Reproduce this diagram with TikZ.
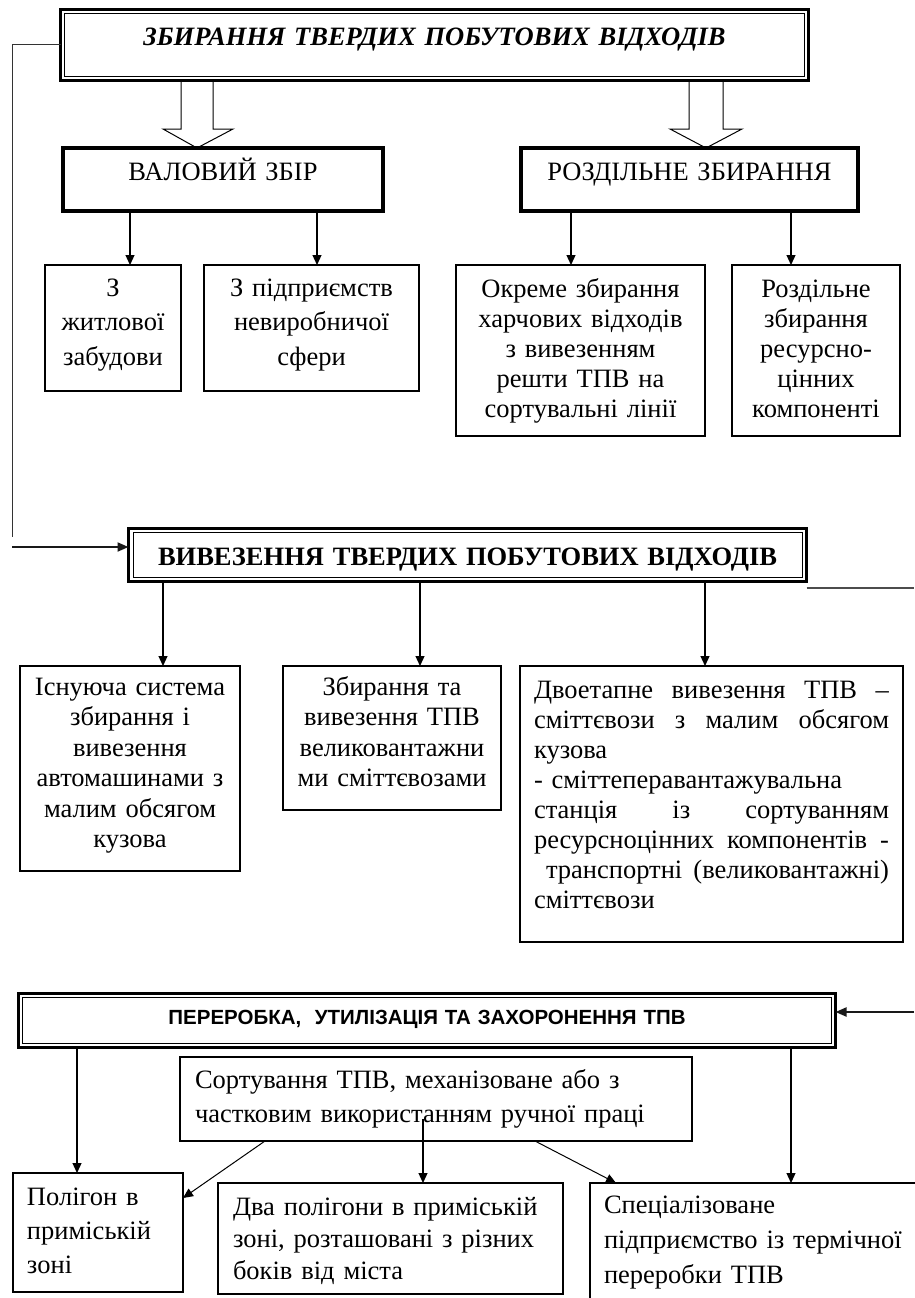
\documentclass[tikz,border=0pt]{standalone}
\usepackage{fontspec}
\setmainfont{Liberation Serif}
\newfontfamily\arialfont{Liberation Sans}
\usetikzlibrary{arrows.meta,calc}
% one justified line of the two-stage text
\newcommand\jline[1]{\leavevmode\hbox to 355pt{#1}}

\begin{document}
\begin{tikzpicture}[x=1pt,y=-1pt,
  boxframe/.style={draw, outer sep=0pt, inner ysep=0pt, inner xsep=0pt, anchor=north west},
  thinbox/.style={boxframe, line width=1.2pt},
  thickbox/.style={boxframe, line width=4pt},
  dblbox/.style={boxframe, line width=3pt},
  innerframe/.style={line width=1pt},
  arr/.style={line width=1.2pt, -{Triangle[length=10pt,width=9pt]}},
  feed/.style={line width=2pt, draw=black!90, -{Triangle[length=11pt,width=9pt]}},
  blockarr/.style={line width=1pt},
  body/.style={font={\fontsize{26.5}{#1}\selectfont}},
]
\useasboundingbox[fill=white] (0,0) rectangle (914,1298);

% ---- collection ----
\node[dblbox, text width=748pt, align=center, text height=36.5pt, text depth=34.5pt,
  font=\fontsize{26.5}{30}\selectfont\bfseries\itshape] (collect) at (60.5,9.5)
  {ЗБИРАННЯ ТВЕРДИХ ПОБУТОВИХ ВІДХОДІВ};
\draw[innerframe] ([shift={(4,4)}]collect.north west) rectangle ([shift={(-4,-4)}]collect.south east);

\node[thickbox, text width=320pt, align=center, text height=32pt, text depth=31pt, body=30]
  (gross) at (63,148) {ВАЛОВИЙ ЗБІР};
\node[thickbox, text width=337pt, align=center, text height=32pt, text depth=31pt, body=30]
  (separate) at (521,148) {РОЗДІЛЬНЕ ЗБИРАННЯ};

\draw[blockarr] (181,0 |- collect.south) -- (181,129) -- (163,129) -- (197,0 |- gross.north)
  -- (233,129) -- (213,129) -- (213,0 |- collect.south);
\draw[blockarr] (689,0 |- collect.south) -- (689,129) -- (670,129) -- (706,0 |- separate.north)
  -- (742,129) -- (723,129) -- (723,0 |- collect.south);

\node[thinbox, text width=136pt, align=center, text height=31pt, text depth=95pt, body=34.5]
  (housing) at (45,265) {З\\житлової\\забудови};
\node[thinbox, text width=215pt, align=center, text height=31pt, text depth=95pt, body=34.5]
  (firms) at (204,265) {З підприємств\\невиробничої\\сфери};
\node[thinbox, text width=249pt, align=center, text height=32pt, text depth=139pt, body=30]
  (food) at (456,265) {Окреме збирання\\харчових відходів\\з вивезенням\\решти ТПВ на\\сортувальні лінії};
\node[thinbox, text width=168pt, align=center, text height=32pt, text depth=139pt, body=30]
  (resources) at (732,265) {Роздільне\\збирання\\ресурсно-\\цінних\\компоненті};

\draw[arr] (130,0 |- gross.south) -- (130,0 |- housing.north);
\draw[arr] (317,0 |- gross.south) -- (317,0 |- firms.north);
\draw[arr] (571,0 |- separate.south) -- (571,0 |- food.north);
\draw[arr] (791,0 |- separate.south) -- (791,0 |- resources.north);

% ---- removal ----
\node[dblbox, text width=678pt, align=center, text height=36.5pt, text depth=16.5pt,
  font=\fontsize{26.5}{30}\selectfont\bfseries] (removal) at (128.5,528.5)
  {ВИВЕЗЕННЯ ТВЕРДИХ ПОБУТОВИХ ВІДХОДІВ};
\draw[innerframe] ([shift={(4.5,4)}]removal.north west) rectangle ([shift={(-4.5,-4)}]removal.south east);

\coordinate (loopend) at (12,537);
\coordinate (loopin) at (12,547);
\draw[line width=1pt, black!80] (collect.west) -| (loopend);
\draw[feed] (loopin) -- (loopin -| removal.west);

\coordinate (outR) at (914,588);
\draw[line width=2pt, black!70] (outR -| removal.east) -- (outR);

\node[thinbox, text width=220pt, align=center, text height=29pt, text depth=176pt, body=30.5]
  (existing) at (20,666) {Існуюча система\\збирання і\\вивезення\\автомашинами з\\малим обсягом\\кузова};
\node[thinbox, text width=218pt, align=center, text height=29pt, text depth=115pt, body=30.5]
  (large) at (283,666) {Збирання та\\вивезення ТПВ\\великовантажни\\ми сміттєвозами};
\node[thinbox, text width=355pt, inner xsep=14pt, align=left, text height=32pt, text depth=244pt, body=30]
  (twostage) at (520,666) {%
  \jline{Двоетапне\hfill вивезення\hfill ТПВ\hfill –}\\
  \jline{сміттєвози\hfill з\hfill малим\hfill обсягом}\\
  кузова\\
  - сміттеперавантажувальна\\
  \jline{станція\hfill із\hfill сортуванням}\\
  \jline{ресурсноцінних\hfill компонентів\hfill -}\\
  \jline{\hspace{12pt}транспортні\hfill (великовантажні)}\\
  сміттєвози};

\draw[arr] (163,0 |- removal.south) -- (163,0 |- existing.north);
\draw[arr] (420,0 |- removal.south) -- (420,0 |- large.north);
\draw[arr] (705,0 |- removal.south) -- (705,0 |- twostage.north);

% ---- processing ----
\node[dblbox, text width=817pt, align=center, text height=30.5pt, text depth=23.5pt,
  font=\arialfont\fontsize{20.5}{24}\selectfont\bfseries] (processing) at (18.5,993.5)
  {ПЕРЕРОБКА,~ УТИЛІЗАЦІЯ ТА ЗАХОРОНЕННЯ ТПВ};
\draw[innerframe] ([shift={(4,4)}]processing.north west) rectangle ([shift={(-4,-4)}]processing.south east);

\coordinate (inR) at (914,1012);
\draw[feed] (inR) -- (inR -| processing.east);

\node[thinbox, text width=482pt, inner xsep=15pt, align=left, text height=31pt, text depth=53pt, body=34]
  (sorting) at (180,1057) {Сортування ТПВ, механізоване або з\\частковим використанням ручної праці};

\node[thinbox, text width=142pt, inner xsep=14pt, align=left, text height=32pt, text depth=87pt, body=34]
  (landfill) at (13,1173) {Полігон в\\приміській\\зоні};
\node[thinbox, text width=315pt, inner xsep=15pt, align=left, text height=32pt, text depth=79pt, body=32]
  (twolandfills) at (218,1183) {Два полігони в приміській\\зоні, розташовані з різних\\боків від міста};
\node[boxframe, draw=none, text width=300pt, inner xsep=14pt, align=left, text height=30pt, text depth=100pt, body=35]
  (thermal) at (590,1183) {Спеціалізоване\\підприємство із термічної\\переробки ТПВ};
\draw[line width=1.2pt] (thermal.north west |- 0,1300) -- (thermal.north west) -- (916,0 |- thermal.north west);

\draw[arr] (77,0 |- processing.south) -- (77,0 |- landfill.north);
\draw[arr] (791,0 |- processing.south) -- (791,0 |- thermal.north);
\draw[arr, line width=1pt] (265,0 |- sorting.south) -- (landfill.east |- 0,1198);
\coordinate (sortmid) at (423,1119);
\draw[arr] (sortmid) -- (sortmid |- twolandfills.north);
\draw[arr, line width=1pt] (535,0 |- sorting.south) -- (616,0 |- thermal.north);
\end{tikzpicture}
\end{document}
